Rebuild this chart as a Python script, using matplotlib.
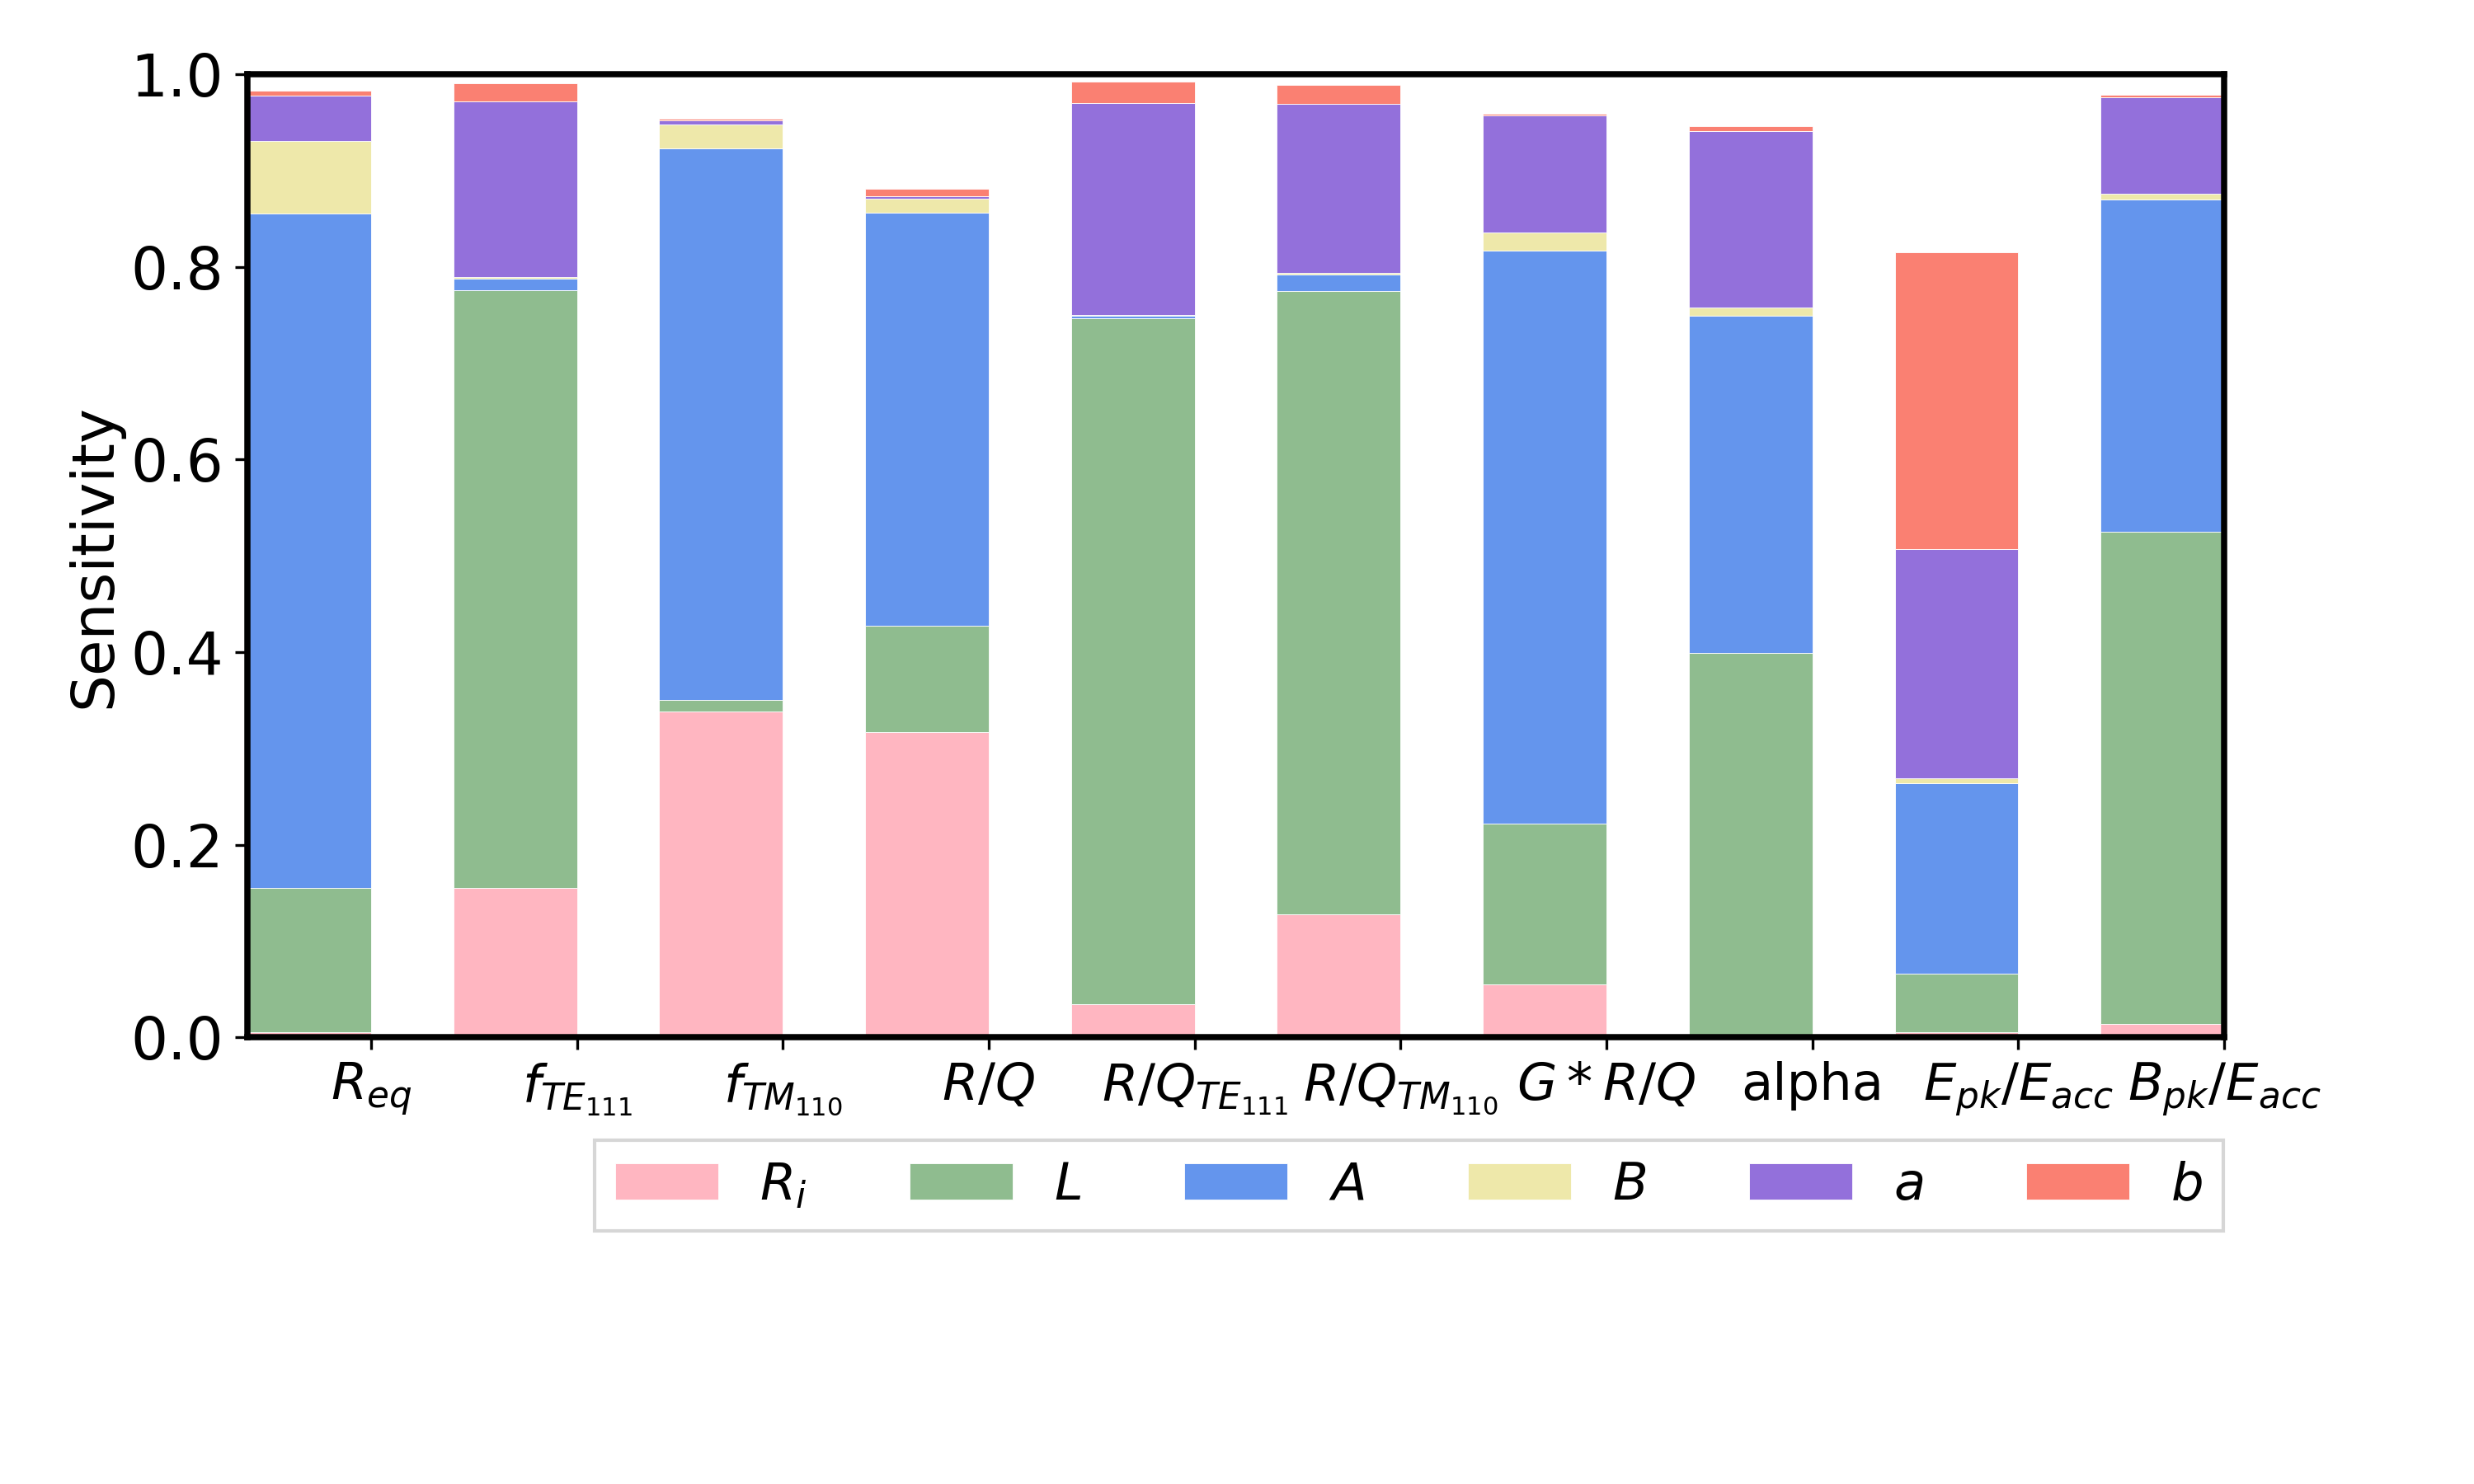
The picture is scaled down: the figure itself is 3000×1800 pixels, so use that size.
import numpy as np
import matplotlib
matplotlib.use('Agg')
import matplotlib.pyplot as plt

# objective functions (x axis) and design parameters (stacked segments)
objectives = ['$R_{eq}$', '$f_{TE_{111}}$', '$f_{TM_{110}}$', '$R/Q$', '$R/Q_{TE_{111}}$',
              '$R/Q_{TM_{110}}$', '$G*R/Q$', 'alpha', '$E_{pk}/E_{acc}$', '$B_{pk}/E_{acc}$']
param_labels = ['$R_i$', '$L$', '$A$', '$B$', '$a$', '$b$']

Ri = [0.005, 0.155, 0.338, 0.317, 0.034, 0.128, 0.055, 0.000, 0.005, 0.014]
L  = [0.150, 0.621, 0.012, 0.110, 0.713, 0.647, 0.167, 0.399, 0.061, 0.511]
A  = [0.700, 0.012, 0.573, 0.429, 0.002, 0.017, 0.595, 0.350, 0.198, 0.345]
B  = [0.076, 0.001, 0.025, 0.015, 0.001, 0.002, 0.019, 0.009, 0.005, 0.006]
a  = [0.047, 0.183, 0.004, 0.002, 0.220, 0.175, 0.121, 0.183, 0.238, 0.100]
b  = [0.005, 0.019, 0.002, 0.008, 0.022, 0.020, 0.002, 0.005, 0.308, 0.003]

colors = ['lightpink', 'darkseagreen', 'cornflowerblue', 'palegoldenrod', 'mediumpurple', 'salmon']

plt.rcParams['font.size'] = 15

fig = plt.figure(figsize=(10, 6), dpi=300)
ax = fig.add_axes([0.1, 0.301, 0.799, 0.649])

x = np.arange(len(objectives))
width = 0.6
bottom = np.zeros(len(objectives))
for vals, lab, col in zip([Ri, L, A, B, a, b], param_labels, colors):
    ax.bar(x, vals, width, bottom=bottom, color=col, label=lab,
           edgecolor='white', linewidth=0.2)
    bottom += np.array(vals)

ax.set_xlim(-width / 2, len(objectives) - 1 + width / 2)
ax.set_ylim(0, 1.0)
ax.set_xticks(x + width / 2)
ax.set_xticklabels(objectives)
ax.tick_params(axis='y', labelsize=17)
ax.set_ylabel('Sensitivity', fontsize=17, labelpad=2)
for s in ax.spines.values():
    s.set_linewidth(1.8)

fig.legend(loc='upper right', bbox_to_anchor=(0.909, 0.249), ncol=6, fancybox=False)

fig.savefig('out.png', dpi=300)
